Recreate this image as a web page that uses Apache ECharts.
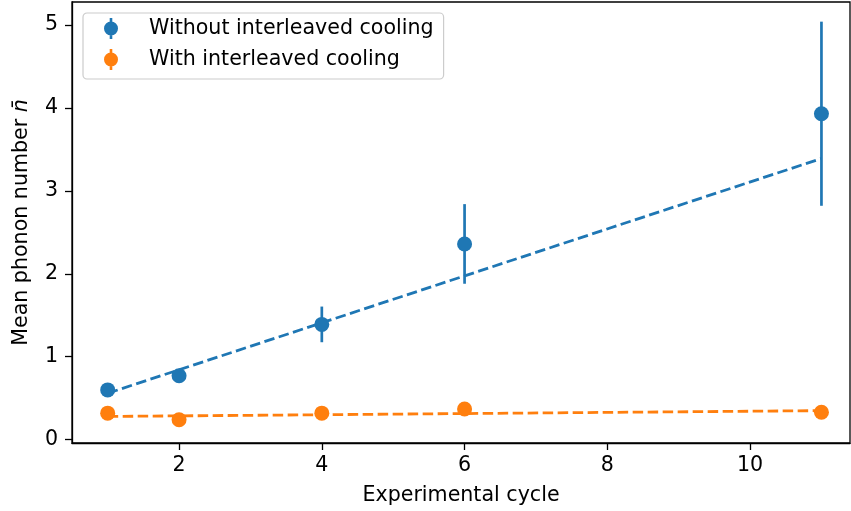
<!DOCTYPE html>
<html>
<head>
<meta charset="utf-8">
<script src="https://cdn.jsdelivr.net/npm/echarts@6/dist/echarts.min.js"></script>
<style>
html,body{margin:0;padding:0;background:#fff;}
#chart{width:851px;height:511px;}
</style>
</head>
<body>
<div id="chart"></div>
<script>
// Data
const cycles = [1, 2, 4, 6, 11];
const withoutMean = [0.60, 0.77, 1.39, 2.36, 3.93];
const withoutErr = [0.05, 0.06, 0.215, 0.48, 1.11];
const withMean = [0.32, 0.24, 0.32, 0.37, 0.33];
const withErr = [0.03, 0.03, 0.03, 0.04, 0.04];
const fitX = [1, 11];
const withoutFit = [0.56, 3.39];
const withFit = [0.28, 0.35];
const xTicks = [2, 4, 6, 8, 10];
const yTicks = [0, 1, 2, 3, 4, 5];

const BLUE = '#1f77b4', ORANGE = '#ff7f0e';
const FONT = 'DejaVu Sans';
const FS = 20.6;

function pairs(xs, ys) { return xs.map((x, i) => [x, ys[i]]); }
function errData(xs, ys, es) { return xs.map((x, i) => [x, ys[i] - es[i], ys[i] + es[i]]); }

function errSeries(name, data, color) {
  return {
    type: 'custom', name: name, data: data, z: 3, silent: true,
    renderItem: function (params, api) {
      const p1 = api.coord([api.value(0), api.value(1)]);
      const p2 = api.coord([api.value(0), api.value(2)]);
      return { type: 'line', shape: { x1: p1[0], y1: p1[1], x2: p2[0], y2: p2[1] },
               style: { stroke: color, lineWidth: 2.7 } };
    },
    encode: { x: 0, y: [1, 2] }
  };
}

const icon = 'path://M5.7,0 L8.3,0 L8.3,21 L5.7,21 Z M7,3.5 A7,7 0 1,1 7,17.5 A7,7 0 1,1 7,3.5 Z';

const chart = echarts.init(document.getElementById('chart'), null, { renderer: 'canvas' });
chart.setOption({
  animation: false,
  backgroundColor: '#fff',
  textStyle: { fontFamily: FONT },
  grid: { left: 72, right: 1, top: 2, bottom: 66, show: true, borderColor: '#000', borderWidth: 1.3, backgroundColor: 'transparent' },
  legend: {
    left: 83, top: 13, orient: 'vertical',
    itemWidth: 14, itemHeight: 21, itemGap: 10,
    padding: [5, 10, 9, 21],
    backgroundColor: 'rgba(255,255,255,0.8)', borderColor: '#cccccc', borderWidth: 1.2, borderRadius: 4,
    selectedMode: false,
    textStyle: { fontFamily: FONT, fontSize: FS, color: '#000', padding: [0, 0, 0, 26] },
    data: [
      { name: 'Without interleaved cooling', icon: icon, itemStyle: { color: BLUE } },
      { name: 'With interleaved cooling', icon: icon, itemStyle: { color: ORANGE } }
    ]
  },
  xAxis: {
    type: 'value', min: 0.5, max: 11.4,
    name: 'Experimental cycle', nameLocation: 'middle', nameGap: 42,
    nameTextStyle: { fontFamily: FONT, fontSize: FS, color: '#000' },
    axisLine: { show: true, onZero: false, lineStyle: { color: '#000', width: 1.3 } },
    axisTick: { show: true, length: 7, lineStyle: { color: '#000', width: 1.3 }, customValues: xTicks },
    axisLabel: { fontFamily: FONT, fontSize: FS, color: '#000', margin: 12, customValues: xTicks },
    splitLine: { show: false }
  },
  yAxis: {
    type: 'value', min: -0.04, max: 5.277,
    name: '{a|Mean phonon number }{b|n̄}', nameLocation: 'middle', nameGap: 40,
    nameTextStyle: { fontFamily: FONT, fontSize: FS, color: '#000',
      rich: { a: { fontFamily: FONT, fontSize: FS, color: '#000' },
              b: { fontFamily: FONT, fontSize: FS, color: '#000', fontStyle: 'italic' } } },
    axisLine: { show: true, onZero: false, lineStyle: { color: '#000', width: 1.3 } },
    axisTick: { show: true, length: 7, lineStyle: { color: '#000', width: 1.3 }, customValues: yTicks },
    axisLabel: { fontFamily: FONT, fontSize: FS, color: '#000', margin: 14, customValues: yTicks },
    splitLine: { show: false }
  },
  series: [
    { type: 'line', name: 'fit-without', data: pairs(fitX, withoutFit), symbol: 'none', z: 2, silent: true,
      lineStyle: { color: BLUE, width: 2.8, type: [10.5, 4.5] } },
    { type: 'line', name: 'fit-with', data: pairs(fitX, withFit), symbol: 'none', z: 2, silent: true,
      lineStyle: { color: ORANGE, width: 2.8, type: [10.5, 4.5] } },
    errSeries('err-without', errData(cycles, withoutMean, withoutErr), BLUE),
    errSeries('err-with', errData(cycles, withMean, withErr), ORANGE),
    { type: 'scatter', name: 'Without interleaved cooling', data: pairs(cycles, withoutMean), symbol: 'circle', symbolSize: 15, z: 4,
      itemStyle: { color: BLUE, opacity: 1 } },
    { type: 'scatter', name: 'With interleaved cooling', data: pairs(cycles, withMean), symbol: 'circle', symbolSize: 15, z: 4,
      itemStyle: { color: ORANGE, opacity: 1 } }
  ]
});
</script>
</body>
</html>
